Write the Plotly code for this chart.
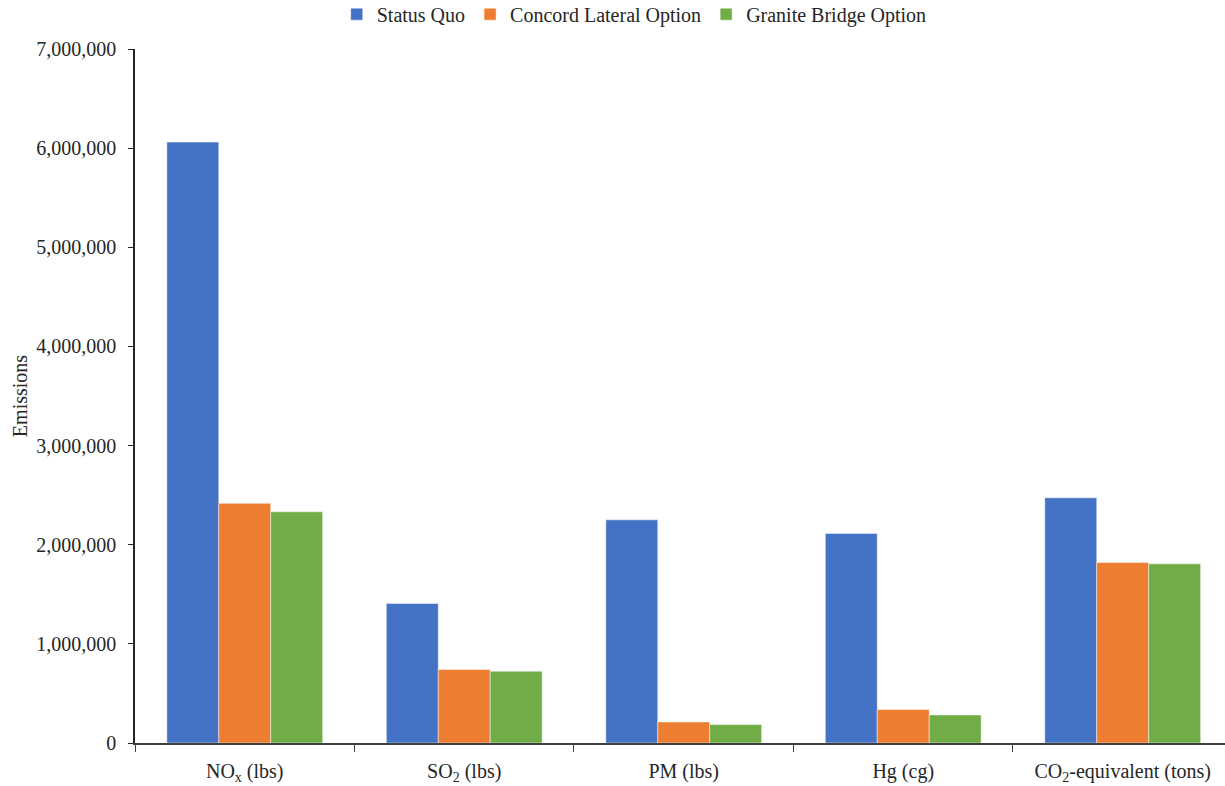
import plotly.graph_objects as go

categories = ["NO<sub>x</sub> (lbs)", "SO<sub>2</sub> (lbs)", "PM (lbs)", "Hg (cg)",
              "CO<sub>2</sub>-equivalent (tons)"]
status_quo = [6061000, 1407000, 2251000, 2114000, 2473000]
concord_lateral = [2417000, 741000, 212000, 337000, 1821000]
granite_bridge = [2332000, 724000, 186000, 283000, 1807000]
tick_vals = [0, 1000000, 2000000, 3000000, 4000000, 5000000, 6000000, 7000000]
tick_text = ["0", "1,000,000", "2,000,000", "3,000,000", "4,000,000",
             "5,000,000", "6,000,000", "7,000,000"]

FONT = "Liberation Serif"

fig = go.Figure()
for name, vals, col in [("Status Quo", status_quo, "#4472C4"),
                        ("Concord Lateral Option", concord_lateral, "#ED7D31"),
                        ("Granite Bridge Option", granite_bridge, "#70AD47")]:
    fig.add_trace(go.Bar(x=categories, y=vals, name=name,
                         marker=dict(color=col, line=dict(color="rgba(255,255,255,0.6)", width=0.8))))

fig.update_layout(
    width=1225, height=786,
    paper_bgcolor="white", plot_bgcolor="white",
    margin=dict(l=135, r=0, t=49, b=43),
    barmode="group", bargap=0.29, bargroupgap=0,
    font=dict(family=FONT, size=20, color="#262626"),
    legend=dict(orientation="h", x=0.458, xanchor="center", y=0.982, yanchor="middle",
                yref="container", font=dict(family=FONT, size=20, color="#262626"),
                itemwidth=30, tracegroupgap=0),
    xaxis=dict(type="category", range=[-0.5, 4.466], showline=True, linecolor="#404040",
               linewidth=1.5, ticks="outside", tickson="boundaries", ticklen=7,
               tickcolor="#404040", showgrid=False, ticklabelstandoff=9,
               tickfont=dict(family=FONT, size=20, color="#262626")),
    yaxis=dict(range=[0, 7000000], tickvals=tick_vals, ticktext=tick_text,
               showline=True, linecolor="#262626", linewidth=1.5, ticks="outside",
               ticklen=5, tickcolor="#262626", showgrid=False, zeroline=False,
               ticklabelstandoff=8,
               title=dict(text="Emissions", font=dict(family=FONT, size=20, color="#262626"), standoff=3),
               tickfont=dict(family=FONT, size=20, color="#262626")),
)

fig.write_html("out.html")
